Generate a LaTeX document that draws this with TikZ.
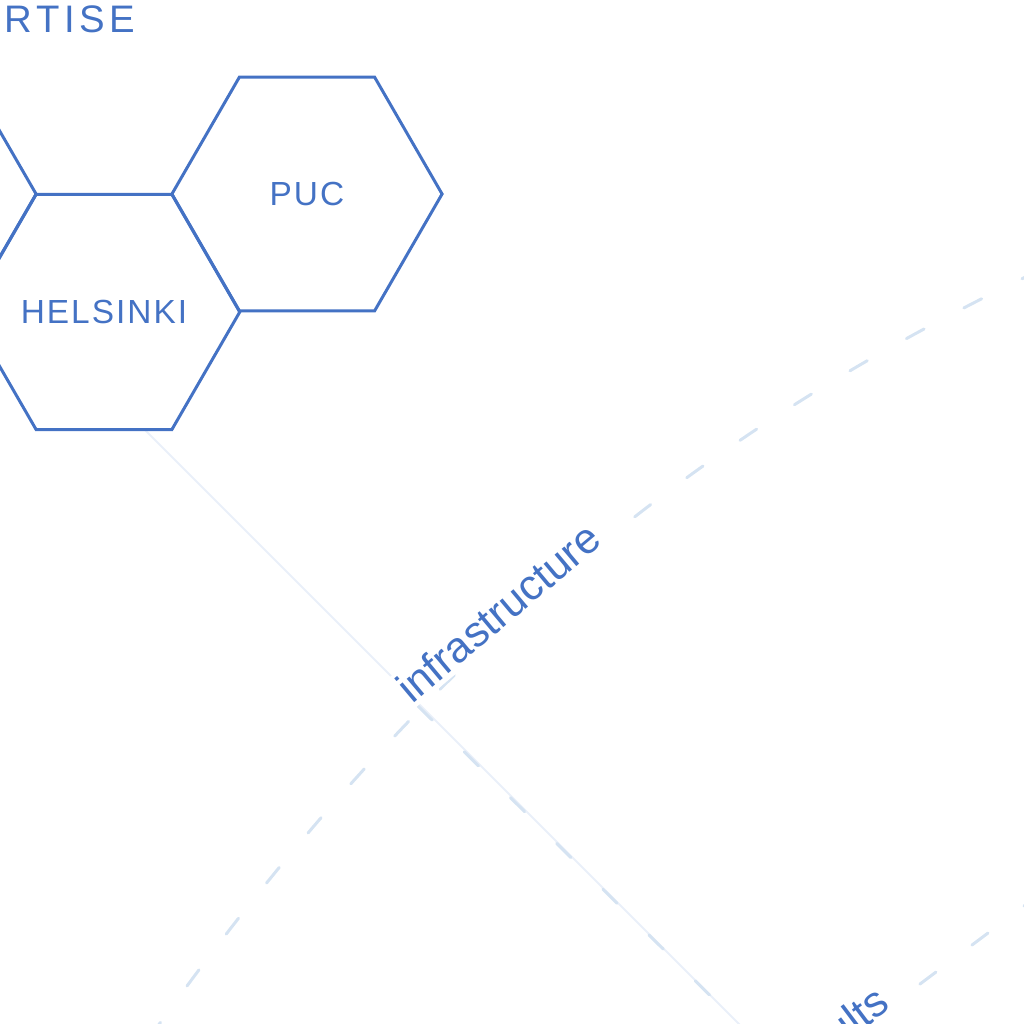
\documentclass[tikz,border=0pt]{standalone}
\usepackage{fontspec}
\setmainfont{Liberation Sans}
\newfontfamily\handfont[LetterSpace=6]{Liberation Sans}
\newfontfamily\titlefont[LetterSpace=12]{Liberation Sans}
\usetikzlibrary{shapes.geometric}
\definecolor{hexblue}{HTML}{4472C4}
\definecolor{dashblue}{HTML}{D5E3F2}
\definecolor{faintblue}{HTML}{EAF0F9}
\begin{document}
\begin{tikzpicture}[x=0.01cm,y=-0.01cm,
  hexnode/.style={regular polygon, regular polygon sides=6, minimum size=2.70cm,
    draw=hexblue, line width=0.85pt, text=hexblue, inner sep=0pt,
    font=\handfont\fontsize{9.5}{11}\selectfont},
  titletext/.style={text=hexblue, inner sep=0pt, font=\titlefont\fontsize{10.9}{12}\selectfont},
  flow/.style={draw=dashblue, line width=0.85pt, line cap=round, dash pattern=on 5.7pt off 12.8pt},
  faint/.style={draw=faintblue, line width=0.6pt},
  lbl/.style={text=hexblue, font=\fontsize{12.2}{14}\selectfont, fill=white, inner sep=1.2pt}]
\useasboundingbox (0,0) rectangle (1024,1024);
\clip (0,0) rectangle (1024,1024);

% coordinates for free connector ends
\coordinate (hs) at (145,430);
\coordinate (se) at (760,1045);
\coordinate (ia) at (418,706);
\coordinate (ca) at (1040,270);
\coordinate (cb) at (155,1030);
\coordinate (ra) at (1040,894);
\coordinate (rb) at (780,1089);

% connectors
\draw[faint] (hs) -- (se);
\draw[flow] (ia) -- (se);
\draw[flow] (ca) .. controls (740,414) and (455,610) .. (cb);
\draw[flow] (ra) -- (rb);

% hexagons
\node[hexnode] (west) at (-99,194) {};
\node[hexnode] (puc) at (307,194) {PUC};
\node[hexnode] (hel) at (104,312) {HELSINKI};

% texts
\node[titletext, anchor=base west] (title) at (4,32) {RTISE};
\node[lbl, rotate=40, anchor=base] (infra) at (508,624) {infrastructure};
\node[lbl, rotate=37, anchor=base east] (res) at (896,1005) {ults};
\end{tikzpicture}
\end{document}
